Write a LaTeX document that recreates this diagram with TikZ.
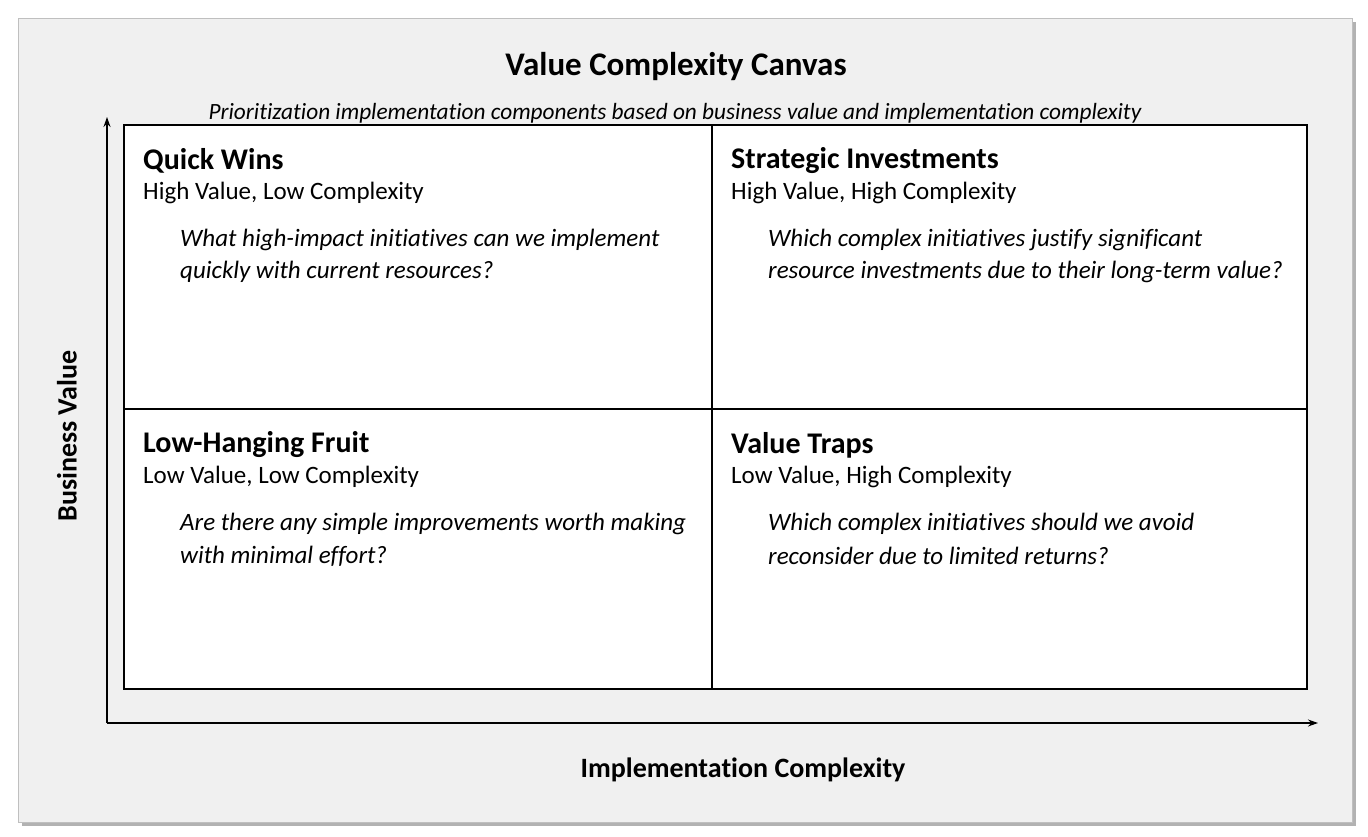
\documentclass[tikz,border=0pt]{standalone}
\usepackage{fontspec}
\setmainfont[Ligatures=NoCommon]{Carlito}
\usetikzlibrary{arrows.meta}
\begin{document}
\begin{tikzpicture}[x=1pt,y=-1pt,
  qt/.style={anchor=west,inner xsep=0pt,font=\fontsize{30}{36}\selectfont\bfseries},
  qs/.style={anchor=west,inner xsep=0pt,font=\fontsize{25}{30}\selectfont},
  ql/.style={anchor=west,inner xsep=0pt,font=\fontsize{25}{30}\selectfont\itshape},
  ax/.style={line width=1.3pt,-{Stealth[length=10pt,width=7pt]}}]
\useasboundingbox (0,0) rectangle (1368,837);
\fill[white] (0,0) rectangle (1368,837);
\fill[black!30] (22,22) rectangle (1356,826);
\fill[black!6,draw=black!25] (18,18) rectangle (1352,822);
\node (title) at (676,67) {\fontsize{33}{38}\selectfont\bfseries Value Complexity Canvas};
\node (sub) at (675,113) {\fontsize{23.3}{26}\selectfont\itshape Prioritization implementation components based on business value and implementation complexity};
\draw[line width=1.3pt,fill=white] (124,125) rectangle (1307,689);
\draw[line width=1.3pt] (712,125) -- (712,689) (124,409) -- (1307,409);
\coordinate (o) at (107,723);
\coordinate (yt) at (107,117);
\coordinate (xt) at (1318,723);
\draw[ax] (o) -- (yt);
\draw[ax] (o) -- (xt);
\node (yl) [rotate=90,font=\fontsize{28}{32}\selectfont\bfseries] at (67,436) {Business Value};
\node (xl) [font=\fontsize{28}{32}\selectfont\bfseries] at (743,770) {Implementation Complexity};
\node[qt] (t1) at (143,161) {Quick Wins};
\node[qs] (s1) at (143,193) {High Value, Low Complexity};
\node[ql] (q1a) at (180,240) {What high-impact initiatives can we implement};
\node[ql] (q1b) at (180,272) {quickly with current resources?};
\node[qt] (t2) at (731,161) {Strategic Investments};
\node[qs] (s2) at (731,193) {High Value, High Complexity};
\node[ql] (q2a) at (768,240) {Which complex initiatives justify significant};
\node[ql] (q2b) at (768,272) {resource investments due to their long-term value?};
\node[qt] (t3) at (143,445) {Low-Hanging Fruit};
\node[qs] (s3) at (143,477) {Low Value, Low Complexity};
\node[ql] (q3a) at (180,524) {Are there any simple improvements worth making};
\node[ql] (q3b) at (180,556) {with minimal effort?};
\node[qt] (t4) at (731,445) {Value Traps};
\node[qs] (s4) at (731,477) {Low Value, High Complexity};
\node[ql] (q4a) at (768,524) {Which complex initiatives should we avoid};
\node[ql] (q4b) at (768,556) {reconsider due to limited returns?};
\end{tikzpicture}
\end{document}
